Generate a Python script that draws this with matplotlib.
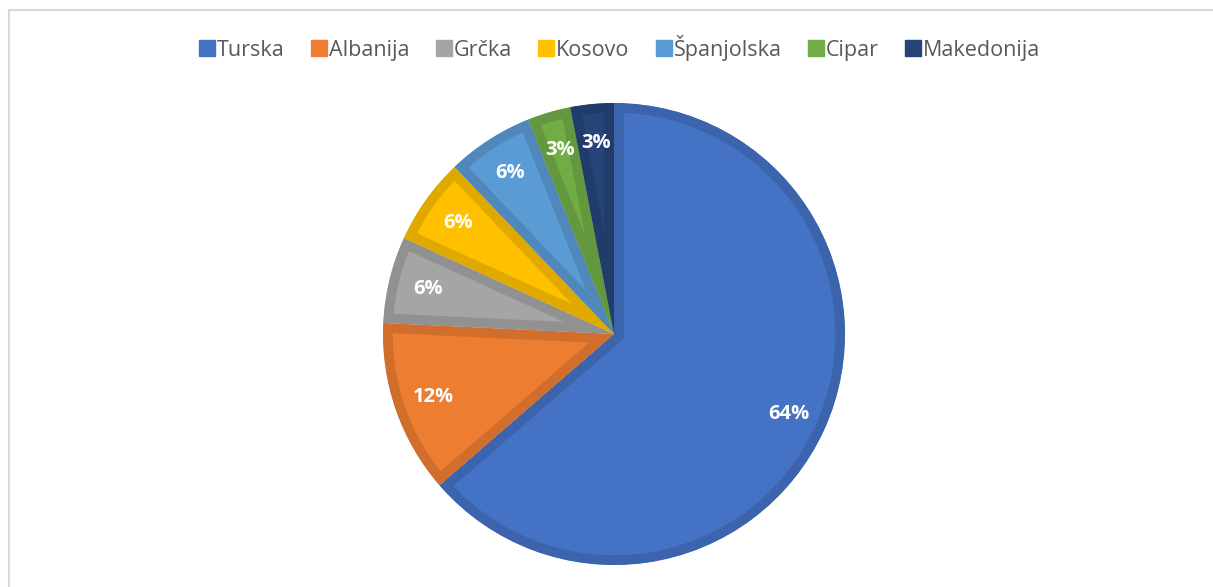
import matplotlib.pyplot as plt
import matplotlib.colors as mcolors
from matplotlib.patches import Rectangle, Wedge
from matplotlib.lines import Line2D

# data
countries = ['Turska', 'Albanija', 'Grčka', 'Kosovo', 'Španjolska', 'Cipar', 'Makedonija']
counts = [21, 4, 2, 2, 2, 1, 1]
colors = ['#4472C4', '#ED7D31', '#A5A5A5', '#FFC000', '#5B9BD5', '#70AD47', '#264478']

plt.rcParams['font.family'] = ['Open Sans', 'DejaVu Sans']

W, H = 1213, 587
fig = plt.figure(figsize=(W / 100, H / 100), dpi=100)

# chart area border (light gray)
fig.patches.append(Rectangle((9 / W, -0.1), 1.2, (H - 10) / H + 0.1, transform=fig.transFigure,
                             fill=False, edgecolor='#D9D9D9', linewidth=1.5))

cx, cy, r = 614, 334, 231
ax = fig.add_axes([(cx - r) / W, (H - cy - r) / H, 2 * r / W, 2 * r / H])


def darker(c, f=0.88):
    rgb = mcolors.to_rgb(c)
    return tuple(v * f for v in rgb)


wedges, texts, autotexts = ax.pie(
    counts, colors=colors, startangle=90, counterclock=False,
    autopct=lambda p: f'{p:.0f}%', pctdistance=0.83,
    textprops=dict(color='white', fontsize=14.5, fontweight='bold'))

# darker inner outline on each slice (clipped so it stays inside)
for w, c in zip(wedges, colors):
    clip = Wedge(w.center, w.r, w.theta1, w.theta2, transform=ax.transData)
    w.set_edgecolor(darker(c))
    w.set_linewidth(14)
    w.set_clip_on(True)
    w.set_clip_path(clip)

ax.set_xlim(-1, 1)
ax.set_ylim(-1, 1)
ax.set_aspect('equal')

handles = [Line2D([], [], marker='s', linestyle='none', markersize=11,
                  markerfacecolor=c, markeredgecolor=c) for c in colors]
fig.legend(handles, countries, loc='center', bbox_to_anchor=(620 / W, 1 - 48 / H),
           ncol=7, frameon=False, fontsize=15.5, labelcolor='#595959',
           handletextpad=0.1, columnspacing=1.25, handlelength=0.7)

fig.savefig('out.png', dpi=100, facecolor='white')
